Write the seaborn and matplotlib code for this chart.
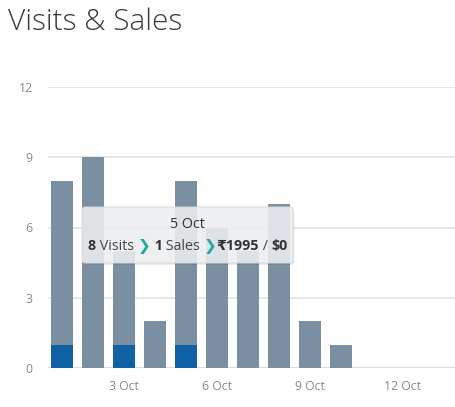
import matplotlib
matplotlib.use("Agg")
import matplotlib.pyplot as plt
from matplotlib.patches import FancyBboxPatch
import seaborn as sns
import pandas as pd

days = [1, 2, 3, 4, 5, 6, 7, 8, 9, 10, 11, 12, 13]
visits = [8, 9, 5, 2, 8, 6, 5, 7, 2, 1, 0, 0, 0]
sales = [1, 0, 1, 0, 1, 0, 0, 0, 0, 0, 0, 0, 0]
xtick_vals = [3, 6, 9, 12]
xtick_labels = ["3 Oct", "6 Oct", "9 Oct", "12 Oct"]
ytick_vals = [0, 3, 6, 9, 12]
title = "Visits & Sales"
tip_title = "5 Oct"
tip_parts = [("8", "bold", "#333333"), (" Visits ", "normal", "#444444"),
             ("❯", "bold", "#1fa99a"), (" 1", "bold", "#333333"),
             (" Sales ", "normal", "#444444"), ("❯", "bold", "#1fa99a"),
             ("₹1995", "bold", "#333333"), (" / ", "normal", "#444444"),
             ("$0", "bold", "#333333")]

sns.set_style("white")
plt.rcParams['font.family'] = ['Open Sans', 'DejaVu Sans']

df = pd.DataFrame({"day": days, "visits": visits, "sales": sales})

W, H = 456, 407
fig = plt.figure(figsize=(W / 100, H / 100), dpi=100)
ax = fig.add_axes([48 / W, 1 - 368 / H, 1 - 48 / W, (368 - 87) / H])

sns.barplot(data=df, x="day", y="visits", native_scale=True, width=0.71,
            color="#7a90a2", saturation=1, linewidth=0, ax=ax, zorder=2)
sns.barplot(data=df, x="day", y="sales", native_scale=True, width=0.71,
            color="#1161a7", saturation=1, linewidth=0, ax=ax, zorder=3)

ax.set_xlim(1 - 14 / 31, 1 + 394 / 31)
ax.set_ylim(0, 12)
ax.set_yticks(ytick_vals)
ax.set_yticklabels([str(v) for v in ytick_vals])
ax.set_xticks(xtick_vals)
ax.set_xticklabels(xtick_labels)
ax.set_xlabel("")
ax.set_ylabel("")
ax.tick_params(axis="both", length=0, labelsize=8.8, colors="#888888")
ax.tick_params(axis="y", pad=11)
ax.tick_params(axis="x", pad=9)
ax.grid(axis="y", color="#e2e2e2", linewidth=1.2, zorder=0)
ax.set_axisbelow(True)
for s in ax.spines.values():
    s.set_visible(False)
ax.axhline(0, color="#dcdcdc", linewidth=1.5, zorder=1)

fig.text(8 / W, 1 - 30 / H, title, fontsize=21.5, fontweight="light",
         color="#3a3a3a", va="baseline", ha="left")

# tooltip
bx0, bx1, by0, by1 = 82, 293, 207, 263
shadow = FancyBboxPatch((bx0 / W + 1.5 / W, 1 - by1 / H - 2 / H),
                        (bx1 - bx0) / W, (by1 - by0) / H,
                        boxstyle="round,pad=0,rounding_size=0.008",
                        transform=fig.transFigure, facecolor="#000000",
                        alpha=0.08, edgecolor="none", zorder=9)
fig.patches.append(shadow)
box = FancyBboxPatch((bx0 / W, 1 - by1 / H), (bx1 - bx0) / W, (by1 - by0) / H,
                     boxstyle="round,pad=0,rounding_size=0.008",
                     transform=fig.transFigure, facecolor="#eef0f2",
                     alpha=0.88, edgecolor="#d8d8d8", linewidth=0.8, zorder=10)
fig.patches.append(box)

fig.text(187 / W, 1 - 225 / H, tip_title, fontsize=10.3, color="#333333",
         ha="center", va="center", zorder=11)

renderer = fig.canvas.get_renderer()
texts = []
for s, wgt, col in tip_parts:
    fam = ['DejaVu Sans'] if s == "❯" else ['Open Sans', 'DejaVu Sans']
    fs = 11 if s == "❯" else 10.3
    t = fig.text(0, 1 - 249.5 / H, s, fontsize=fs, fontweight=wgt, color=col,
                 ha="left", va="baseline", family=fam, zorder=11)
    texts.append(t)
widths = [t.get_window_extent(renderer).width for t in texts]
total = sum(widths)
x = 188 - total / 2
for t, w in zip(texts, widths):
    t.set_x(x / W)
    x += w

fig.savefig("out.png", dpi=100)
